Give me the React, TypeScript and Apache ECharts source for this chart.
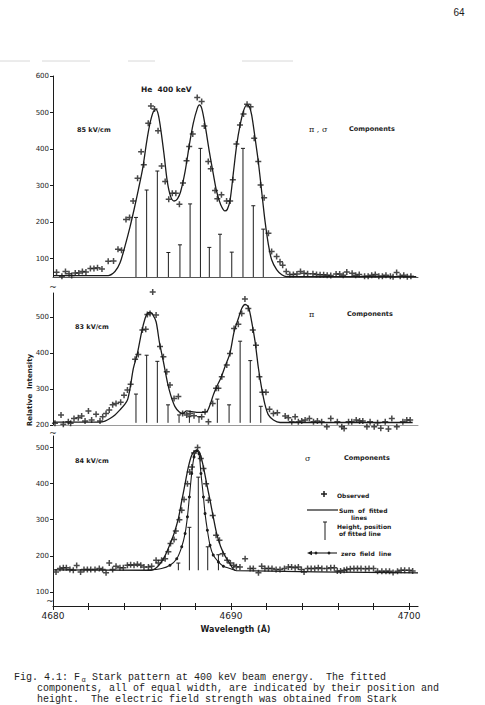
import React, { useEffect, useRef } from 'react';
import * as echarts from 'echarts';

// ---------- data (wavelength in Å, relative intensity) ----------
const xTicks = [4680, 4682, 4684, 4686, 4688, 4690, 4692, 4694, 4696, 4698, 4700];
const xTickLabels = [4680, 4690, 4700];
const p1YTicks = [100, 200, 300, 400, 500, 600];
const p2YTicks = [200, 300, 400, 500];
const p3YTicks = [100, 200, 300, 400, 500];

// Panel 1: 85 kV/cm, pi + sigma components
const p1Observed: number[][] = [
  [4680.2, 63], [4680.5, 52], [4680.7, 65], [4680.9, 59], [4681.05, 54], [4681.25, 61], [4681.45, 61],
  [4681.65, 65], [4681.85, 64], [4682.1, 73], [4682.3, 73], [4682.5, 75], [4682.75, 72], [4683.1, 93],
  [4683.4, 94], [4683.65, 126], [4683.85, 123], [4684.1, 207], [4684.3, 213], [4684.5, 258], [4684.75, 320],
  [4684.95, 393], [4685.1, 357], [4685.35, 471], [4685.5, 518], [4685.7, 510], [4685.9, 450], [4686.1, 354],
  [4686.3, 311], [4686.5, 263], [4686.7, 279], [4686.9, 279], [4687.1, 249], [4687.3, 307], [4687.5, 368],
  [4687.65, 407], [4687.85, 441], [4688.1, 541], [4688.35, 530], [4688.5, 463], [4688.72, 366], [4688.86, 346],
  [4689.1, 287], [4689.23, 264], [4689.46, 275], [4689.75, 258], [4689.95, 258], [4690.1, 316], [4690.3, 414],
  [4690.5, 466], [4690.7, 496], [4690.9, 523], [4691.1, 516], [4691.3, 430], [4691.53, 366], [4691.66, 302],
  [4691.86, 267], [4692.1, 170], [4692.28, 120], [4692.56, 106], [4692.75, 92], [4692.9, 82], [4693.1, 65],
  [4693.3, 57], [4693.5, 57], [4693.7, 58], [4693.9, 65], [4694.1, 60], [4694.3, 59], [4694.6, 59],
  [4694.8, 57], [4695.0, 56], [4695.2, 56], [4695.4, 55], [4695.6, 54], [4695.9, 58], [4696.1, 58],
  [4696.3, 55], [4696.5, 64], [4696.8, 60], [4697.0, 55], [4697.2, 57], [4697.5, 52], [4697.7, 52],
  [4697.9, 55], [4698.1, 57], [4698.3, 52], [4698.5, 52], [4698.7, 55], [4698.95, 52], [4699.1, 51],
  [4699.3, 62], [4699.5, 52], [4699.7, 55], [4699.9, 51], [4700.1, 52],
];
const p1Fit: number[][] = [
  [4680.0, 54], [4683.1, 54], [4683.48, 65], [4683.76, 88], [4684.04, 134], [4684.33, 188], [4684.55, 234],
  [4684.79, 288], [4685.04, 348], [4685.26, 420], [4685.45, 471], [4685.64, 503], [4685.79, 508], [4685.92, 493],
  [4686.07, 448], [4686.24, 384], [4686.42, 311], [4686.61, 270], [4686.8, 258], [4686.99, 264], [4687.17, 284],
  [4687.42, 339], [4687.66, 412], [4687.88, 471], [4688.11, 512], [4688.22, 521], [4688.35, 512], [4688.54, 466],
  [4688.78, 393], [4689.01, 330], [4689.19, 284], [4689.42, 248], [4689.66, 231], [4689.79, 235], [4689.95, 262],
  [4690.13, 335], [4690.32, 412], [4690.51, 466], [4690.69, 503], [4690.88, 521], [4691.03, 516], [4691.16, 493],
  [4691.35, 430], [4691.53, 366], [4691.72, 284], [4691.91, 202], [4692.1, 138], [4692.28, 97], [4692.56, 70],
  [4692.85, 56], [4693.13, 51], [4700.4, 51],
];
const p1Bars: number[][] = [
  [4684.66, 213], [4685.26, 288], [4685.86, 340], [4686.48, 117], [4687.13, 138], [4687.7, 250], [4688.28, 402],
  [4688.78, 131], [4689.38, 167], [4690.04, 118], [4690.67, 402], [4691.25, 245], [4691.81, 181],
];
const p1Base = 50;

// Panel 2: 83 kV/cm, pi components
const p2Observed: number[][] = [
  [4680.11, 205], [4680.45, 228], [4680.58, 202], [4680.86, 209], [4680.99, 205], [4681.18, 218], [4681.42, 220],
  [4681.61, 225], [4681.8, 211], [4681.99, 239], [4682.17, 214], [4682.42, 230], [4682.64, 211], [4682.79, 223],
  [4682.98, 232], [4683.16, 242], [4683.35, 256], [4683.54, 260], [4683.8, 263], [4683.99, 283], [4684.18, 297],
  [4684.36, 313], [4684.61, 383], [4684.79, 396], [4685.02, 464], [4685.21, 466], [4685.3, 507], [4685.45, 510],
  [4685.6, 570], [4685.79, 506], [4686.01, 418], [4686.2, 390], [4686.39, 348], [4686.57, 311], [4686.8, 274],
  [4687.04, 279], [4687.28, 232], [4687.51, 228], [4687.7, 232], [4687.92, 226], [4688.35, 223], [4688.54, 237],
  [4688.73, 209], [4688.97, 260], [4689.16, 302], [4689.29, 302], [4689.48, 334], [4689.76, 367], [4689.94, 399],
  [4690.17, 468], [4690.41, 480], [4690.6, 510], [4690.78, 550], [4690.97, 524], [4691.22, 464], [4691.4, 422],
  [4691.59, 334], [4691.76, 291], [4691.96, 291], [4692.16, 244], [4692.38, 232], [4692.6, 234], [4693.04, 225],
  [4693.22, 220], [4693.41, 209], [4693.6, 223], [4693.78, 209], [4693.97, 211], [4694.16, 214], [4694.4, 218],
  [4694.63, 209], [4694.85, 211], [4695.09, 209], [4695.38, 195], [4695.6, 218], [4695.97, 209], [4696.22, 195],
  [4696.35, 190], [4696.6, 209], [4696.78, 209], [4697.03, 214], [4697.22, 211], [4697.4, 211], [4697.63, 195],
  [4697.81, 209], [4698.04, 195], [4698.23, 206], [4698.41, 191], [4698.66, 209], [4698.84, 189], [4699.03, 218],
  [4699.31, 195], [4699.65, 209], [4699.87, 214], [4700.06, 214],
];
const p2Fit: number[][] = [
  [4680.0, 208], [4682.64, 208], [4682.92, 211], [4683.2, 218], [4683.48, 228], [4683.76, 242], [4684.04, 258],
  [4684.2, 272], [4684.36, 311], [4684.51, 357], [4684.74, 399], [4684.98, 459], [4685.17, 496], [4685.3, 510],
  [4685.45, 513], [4685.6, 507], [4685.79, 487], [4685.97, 432], [4686.2, 376], [4686.42, 320], [4686.61, 283],
  [4686.85, 251], [4687.08, 237], [4687.28, 232], [4687.51, 239], [4687.79, 237], [4688.07, 235], [4688.35, 235],
  [4688.63, 237], [4688.82, 256], [4689.0, 283], [4689.19, 306], [4689.42, 330], [4689.66, 362], [4689.94, 400],
  [4690.17, 459], [4690.41, 496], [4690.6, 524], [4690.79, 535], [4690.97, 529], [4691.16, 487], [4691.35, 432],
  [4691.54, 357], [4691.72, 302], [4691.91, 256], [4692.1, 228], [4692.38, 214], [4692.75, 207], [4700.2, 207],
];
const p2Bars: number[][] = [
  [4684.66, 286], [4685.26, 394], [4685.86, 377], [4686.46, 256], [4687.08, 228], [4687.66, 223], [4688.2, 223],
  [4689.23, 272], [4689.89, 256], [4690.51, 433], [4691.08, 379], [4691.67, 252],
];
const p2Base = 206;

// Panel 3: 84 kV/cm, sigma components
const p3Observed: number[][] = [
  [4680.17, 155], [4680.39, 165], [4680.58, 167], [4680.75, 167], [4680.95, 162], [4681.14, 160], [4681.33, 173],
  [4681.55, 155], [4681.74, 162], [4681.93, 162], [4682.12, 162], [4682.36, 162], [4682.6, 165], [4682.79, 162],
  [4682.98, 153], [4683.16, 180], [4683.35, 162], [4683.54, 171], [4683.76, 167], [4683.95, 167], [4684.18, 174],
  [4684.36, 175], [4684.55, 174], [4684.74, 177], [4684.93, 174], [4685.11, 169], [4685.36, 169], [4685.54, 171],
  [4685.79, 188], [4685.92, 180], [4686.1, 188], [4686.3, 192], [4686.48, 211], [4686.6, 234], [4686.8, 245],
  [4686.9, 269], [4687.1, 300], [4687.23, 326], [4687.36, 356], [4687.55, 400], [4687.68, 432], [4687.8, 446],
  [4687.92, 485], [4688.12, 500], [4688.3, 470], [4688.45, 442], [4688.6, 400], [4688.73, 354], [4688.97, 312],
  [4689.16, 257], [4689.35, 243], [4689.53, 206], [4689.78, 188], [4689.96, 180], [4690.15, 174], [4690.3, 170],
  [4690.5, 169], [4690.79, 192], [4691.07, 165], [4691.25, 165], [4691.54, 153], [4691.72, 171], [4691.9, 165],
  [4692.1, 165], [4692.3, 165], [4692.53, 162], [4692.75, 162], [4693.0, 165], [4693.22, 169], [4693.4, 169],
  [4693.6, 167], [4693.78, 169], [4693.95, 162], [4694.1, 155], [4694.3, 165], [4694.5, 165], [4694.7, 165],
  [4694.9, 167], [4695.1, 165], [4695.38, 165], [4695.6, 167], [4695.8, 167], [4695.97, 158], [4696.15, 158],
  [4696.35, 160], [4696.5, 162], [4696.7, 164], [4696.9, 165], [4697.1, 165], [4697.3, 165], [4697.55, 164],
  [4697.75, 165], [4698.0, 165], [4698.23, 157], [4698.47, 157], [4698.7, 157], [4698.9, 157], [4699.1, 154],
  [4699.35, 157], [4699.55, 160], [4699.75, 160], [4700.0, 160], [4700.2, 158],
];
const p3Fit: number[][] = [
  [4680.0, 161], [4685.5, 160], [4685.75, 165], [4686.01, 178], [4686.29, 200], [4686.57, 232], [4686.8, 262],
  [4687.04, 303], [4687.23, 352], [4687.42, 400], [4687.6, 446], [4687.79, 479], [4687.98, 491], [4688.11, 492],
  [4688.26, 483], [4688.45, 446], [4688.63, 400], [4688.82, 354], [4689.0, 308], [4689.19, 262], [4689.42, 225],
  [4689.66, 200], [4689.94, 178], [4690.12, 164], [4690.3, 159], [4700.5, 153],
];
const p3ZeroField: number[][] = [
  [4685.3, 160], [4686.1, 165], [4686.57, 174], [4686.95, 192], [4687.23, 225], [4687.42, 262], [4687.55, 308],
  [4687.66, 363], [4687.79, 428], [4687.92, 474], [4688.07, 491], [4688.2, 483], [4688.31, 428], [4688.45, 363],
  [4688.54, 317], [4688.67, 271], [4688.82, 229], [4689.0, 202], [4689.29, 183], [4689.57, 171], [4689.94, 165],
  [4690.22, 160],
];
const p3Bars: number[][] = [
  [4687.04, 180], [4687.66, 279], [4688.16, 418], [4688.69, 225], [4689.29, 203],
];
const p3Base = 160;

// ---------- styling ----------
const INK = '#1c1c1c';
const PLUS = 'path://M3,0H5V3H8V5H5V8H3V5H0V3H3Z';
const SANS = 'DejaVu Sans, Liberation Sans, sans-serif';
const MONO = 'Liberation Mono, DejaVu Sans Mono, monospace';

function barSeries(name: string, bars: number[][], base: number, axis: number) {
  return {
    name,
    type: 'custom',
    xAxisIndex: axis,
    yAxisIndex: axis,
    data: bars.map(([x, h]) => [x, h, base]),
    encode: { x: 0, y: 1 },
    renderItem: (_params: any, api: any) => {
      const top = api.coord([api.value(0), api.value(1)]);
      const bot = api.coord([api.value(0), api.value(2)]);
      return {
        type: 'group',
        children: [
          { type: 'line', shape: { x1: top[0], y1: top[1], x2: bot[0], y2: bot[1] }, style: { stroke: INK, lineWidth: 1 } },
          { type: 'line', shape: { x1: top[0] - 2, y1: top[1], x2: top[0] + 2, y2: top[1] }, style: { stroke: INK, lineWidth: 1 } },
        ],
      };
    },
  };
}

function fitSeries(name: string, data: number[][], axis: number) {
  return {
    name,
    type: 'line',
    xAxisIndex: axis,
    yAxisIndex: axis,
    data,
    smooth: 0.3,
    showSymbol: false,
    symbol: 'none',
    lineStyle: { color: INK, width: 1.3 },
    z: 3,
  };
}

function obsSeries(data: number[][], axis: number) {
  return {
    name: 'Observed',
    type: 'scatter',
    xAxisIndex: axis,
    yAxisIndex: axis,
    data,
    symbol: PLUS,
    symbolSize: 6,
    clip: false,
    itemStyle: { color: INK },
    z: 4,
  };
}

function yAxis(grid: number, min: number, max: number, ticks: number[], extra: any = {}) {
  return {
    type: 'value',
    gridIndex: grid,
    min,
    max,
    axisLine: { show: true, onZero: false, lineStyle: { color: INK, width: 1 } },
    axisTick: { show: true, length: 3, customValues: ticks, lineStyle: { color: INK } },
    axisLabel: { show: true, customValues: ticks, fontSize: 7, margin: 4, color: INK, fontFamily: SANS },
    splitLine: { show: false },
    ...extra,
  };
}

function txt(text: string, x: number, y: number, opts: any = {}) {
  return {
    type: 'text',
    x,
    y,
    silent: true,
    style: {
      text,
      fontSize: opts.fontSize ?? 7,
      fontWeight: opts.fontWeight ?? 'bold',
      fontFamily: opts.fontFamily ?? SANS,
      fill: opts.fill ?? INK,
      align: opts.align ?? 'left',
      verticalAlign: 'middle',
    },
    rotation: opts.rotation ?? 0,
  };
}

function seg(x1: number, y1: number, x2: number, y2: number, stroke = INK, lineWidth = 1) {
  return { type: 'line', silent: true, shape: { x1, y1, x2, y2 }, style: { stroke, lineWidth } };
}

export default function App() {
  const ref = useRef<HTMLDivElement>(null);

  useEffect(() => {
    if (!ref.current) return;
    const chart = echarts.init(ref.current, null, { renderer: 'svg' });
    const X_MIN = 4680;
    const X_MAX = 4700.5;

    const option: any = {
      animation: false,
      backgroundColor: '#ffffff',
      grid: [
        { left: 53, top: 76, width: 365, height: 201, outerBoundsMode: 'none' },
        { left: 53, top: 293, width: 365, height: 132, outerBoundsMode: 'none' },
        { left: 53, top: 436, width: 365, height: 170, outerBoundsMode: 'none' },
      ],
      xAxis: [
        {
          type: 'value', gridIndex: 0, min: X_MIN, max: X_MAX, position: 'bottom',
          axisLine: { show: true, onZero: false, lineStyle: { color: '#555', width: 1 } },
          axisTick: { show: false }, axisLabel: { show: false }, splitLine: { show: false },
        },
        {
          type: 'value', gridIndex: 1, min: X_MIN, max: X_MAX, position: 'bottom',
          axisLine: { show: true, onZero: false, lineStyle: { color: '#9a9a9a', width: 1 } },
          axisTick: { show: false }, axisLabel: { show: false }, splitLine: { show: false },
        },
        {
          type: 'value', gridIndex: 2, min: X_MIN, max: X_MAX, position: 'bottom',
          name: 'Wavelength (Å)', nameLocation: 'middle', nameGap: 19,
          nameTextStyle: { fontSize: 8, fontWeight: 'bold', color: INK, fontFamily: SANS },
          axisLine: { show: true, onZero: false, lineStyle: { color: INK, width: 1.2 } },
          axisTick: { show: true, length: 4, customValues: xTicks, lineStyle: { color: INK } },
          axisLabel: {
            show: true, customValues: xTickLabels, fontSize: 9, margin: 5, color: INK, fontFamily: SANS,
            formatter: (v: number) => String(v),
          },
          splitLine: { show: false },
        },
        {
          type: 'value', gridIndex: 2, min: X_MIN, max: X_MAX, position: 'bottom', offset: 0,
          axisLine: { show: false, onZero: false },
          axisTick: { show: true, inside: true, length: 3, customValues: xTicks, lineStyle: { color: INK } },
          axisLabel: { show: false }, splitLine: { show: false },
        },
      ],
      yAxis: [
        yAxis(0, 50, 600, p1YTicks),
        yAxis(1, 200, 567, p2YTicks),
        yAxis(2, 61, 532, p3YTicks),
      ],
      series: [
        barSeries('Height, position of fitted line (85 kV/cm)', p1Bars, p1Base, 0),
        fitSeries('Sum of fitted lines (85 kV/cm)', p1Fit, 0),
        obsSeries(p1Observed, 0),
        barSeries('Height, position of fitted line (83 kV/cm)', p2Bars, p2Base, 1),
        fitSeries('Sum of fitted lines (83 kV/cm)', p2Fit, 1),
        obsSeries(p2Observed, 1),
        barSeries('Height, position of fitted line (84 kV/cm)', p3Bars, p3Base, 2),
        fitSeries('Sum of fitted lines (84 kV/cm)', p3Fit, 2),
        {
          name: 'zero field line',
          type: 'line',
          xAxisIndex: 2,
          yAxisIndex: 2,
          data: p3ZeroField.map((p, i) => ({
            value: p,
            symbol: i < 2 || i > p3ZeroField.length - 3 ? 'none' : 'circle',
          })),
          smooth: 0.3,
          showSymbol: true,
          symbol: 'circle',
          symbolSize: 3,
          itemStyle: { color: INK },
          lineStyle: { color: INK, width: 1.1 },
          z: 3,
        },
        obsSeries(p3Observed, 2),
      ],
      graphic: [
        // page number and faint scan marks
        txt('64', 459, 12, { fontSize: 10, fontWeight: 'normal', align: 'center', fontFamily: 'Liberation Sans, sans-serif' }),
        seg(0, 61, 30, 61, '#d8d8d8'),
        seg(42, 61, 90, 61, '#d8d8d8'),
        seg(128, 61, 155, 61, '#d8d8d8'),
        seg(242, 61, 293, 61, '#d8d8d8'),
        // axis break marks
        txt('~', 53, 287, { fontSize: 9, align: 'center', fontWeight: 'normal' }),
        txt('~', 53, 433, { fontSize: 9, align: 'center', fontWeight: 'normal' }),
        txt('~', 50, 601, { fontSize: 9, align: 'center', fontWeight: 'normal' }),
        // panel 1 labels
        txt('He  400 keV', 141, 89, { fontSize: 7.5 }),
        txt('85 kV/cm', 77, 130, { fontSize: 6.5 }),
        txt('π , σ', 309, 129, { fontSize: 8, fontFamily: 'DejaVu Serif, serif', fontWeight: 'normal' }),
        txt('Components', 349, 129, { fontSize: 6.5 }),
        // panel 2 labels
        txt('83 kV/cm', 75, 327, { fontSize: 6.5 }),
        txt('π', 309, 314, { fontSize: 8, fontFamily: 'DejaVu Serif, serif', fontWeight: 'normal' }),
        txt('Components', 347, 314, { fontSize: 6.5 }),
        txt('Relative  Intensity', 30, 390, { fontSize: 7, align: 'center', rotation: Math.PI / 2 }),
        // panel 3 labels
        txt('84 kV/cm', 75, 461, { fontSize: 6.5 }),
        txt('σ', 305, 458, { fontSize: 8, fontFamily: 'DejaVu Serif, serif', fontWeight: 'normal' }),
        txt('Components', 344, 458, { fontSize: 6.5 }),
        // legend
        seg(321, 494, 327, 494, INK, 1.5),
        seg(324, 491, 324, 497, INK, 1.5),
        txt('Observed', 337, 495, { fontSize: 6 }),
        seg(307, 510, 338, 510, INK, 1.2),
        txt('Sum  of  fitted', 339, 510, { fontSize: 6 }),
        txt('lines', 351, 517, { fontSize: 6 }),
        seg(325, 522, 325, 540, INK, 1),
        seg(323, 522, 327, 522, INK, 1),
        txt('Height, position', 337, 526, { fontSize: 6 }),
        txt('of fitted line', 339, 533, { fontSize: 6 }),
        seg(309, 553, 337, 553, INK, 1.1),
        { type: 'polygon', silent: true, shape: { points: [[307, 553], [312, 550.8], [312, 555.2]] }, style: { fill: INK } },
        { type: 'circle', silent: true, shape: { cx: 316, cy: 553, r: 1.4 }, style: { fill: INK } },
        { type: 'circle', silent: true, shape: { cx: 329, cy: 553, r: 1.4 }, style: { fill: INK } },
        txt('zero  field  line', 341, 553, { fontSize: 6 }),
        // caption
        txt('Fig. 4.1: F', 14, 677, { fontSize: 10, fontWeight: 'normal', fontFamily: MONO }),
        txt('α', 83.5, 680, { fontSize: 7, fontWeight: 'normal', fontFamily: MONO, align: 'center' }),
        txt(' Stark pattern at 400 keV beam energy.  The fitted', 86, 677, { fontSize: 10, fontWeight: 'normal', fontFamily: MONO }),
        txt('components, all of equal width, are indicated by their position and', 37, 688, { fontSize: 10, fontWeight: 'normal', fontFamily: MONO }),
        txt('height.  The electric field strength was obtained from Stark', 37, 699.5, { fontSize: 10, fontWeight: 'normal', fontFamily: MONO }),
      ],
    };

    chart.setOption(option);
    return () => chart.dispose();
  }, []);

  return (
    <div
      ref={ref}
      style={{ position: 'fixed', left: 0, top: 0, width: 485, height: 705, background: '#ffffff' }}
    />
  );
}
